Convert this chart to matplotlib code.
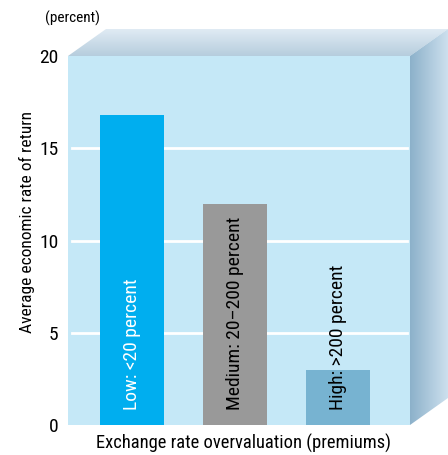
import matplotlib
matplotlib.use('Agg')
import matplotlib.pyplot as plt
import numpy as np
from matplotlib.patches import Polygon

plt.rcParams['font.family'] = ['Roboto Condensed', 'Liberation Sans Narrow', 'Arial Narrow',
                               'Roboto', 'DejaVu Sans']

categories = ['Low: <20 percent', 'Medium: 20\u2013200 percent', 'High: >200 percent']
values = [16.8, 12.0, 3.0]
bar_colors = ['#00aeef', '#999999', '#77b3d1']
label_colors = ['white', 'black', 'black']
y_ticks = [0, 5, 10, 15, 20]

W, H = 448, 455
fig = plt.figure(figsize=(W / 100, H / 100), dpi=100)

# background box (3D look) in pixel coords
bg = fig.add_axes([0, 0, 1, 1])
bg.axis('off')

x0, x1, ytop, ybot = 68, 410, 56, 425
dx, dy = 38, 27

def gradient_poly(pts, c_from, c_to, direction):
    poly = Polygon(pts, closed=True, facecolor='none', edgecolor='none')
    bg.add_patch(poly)
    c_from = np.array(matplotlib.colors.to_rgb(c_from))
    c_to = np.array(matplotlib.colors.to_rgb(c_to))
    t = np.linspace(0, 1, 256)
    grad = c_from[None, :] * (1 - t[:, None]) + c_to[None, :] * t[:, None]
    img = grad[:, None, :] if direction == 'v' else grad[None, :, :]
    xs = [p[0] for p in pts]
    ys = [p[1] for p in pts]
    im = bg.imshow(img, extent=[min(xs), max(xs), max(ys), min(ys)], aspect='auto',
                   interpolation='bilinear')
    im.set_clip_path(poly)

# top face: light at back, darker at front edge
gradient_poly([(x0, ytop), (x0 + dx, ytop - dy), (x1 + dx, ytop - dy), (x1, ytop)],
              '#e0ebf4', '#b6cddd', 'v')
# right face: darker near front, lighter at back
gradient_poly([(x1, ytop), (x1 + dx, ytop - dy), (x1 + dx, ybot - dy), (x1, ybot)],
              '#8cb1ca', '#cde0ee', 'h')
bg.set_xlim(0, W)
bg.set_ylim(H, 0)

ax = fig.add_axes([x0 / W, (H - ybot) / H, (x1 - x0) / W, (ybot - ytop) / H])
ax.set_facecolor('#c5e8f7')
x = np.arange(len(categories))
ax.set_xlim(-0.62, 2.70)
ax.set_ylim(0, 20)
for yv in y_ticks[1:-1]:
    ax.axhline(yv, xmin=0.012, xmax=0.99, color='white', lw=2, zorder=1)
ax.bar(x, values, width=0.62, color=bar_colors, zorder=2)
for xi, lab, c in zip(x, categories, label_colors):
    ax.text(xi, 0.8, lab, rotation=90, ha='center', va='bottom', color=c,
            fontsize=14, zorder=3)

for s in ax.spines.values():
    s.set_visible(False)
ax.set_xticks([])
ax.set_yticks(y_ticks)
ax.tick_params(axis='y', length=0, pad=7, labelsize=14)
ax.set_ylabel('Average economic rate of return', fontsize=12.5, va='center')
ax.yaxis.set_label_coords((27 - x0) / (x1 - x0), (ybot - 222) / (ybot - ytop))
ax.set_xlabel('Exchange rate overvaluation (premiums)', fontsize=13.3, va='top')
ax.xaxis.set_label_coords((243 - x0) / (x1 - x0), -(434 - ybot) / (ybot - ytop))
fig.text(45 / W, 1 - 18 / H, '(percent)', fontsize=11, va='center', ha='left')

fig.savefig('out.png', dpi=100)
